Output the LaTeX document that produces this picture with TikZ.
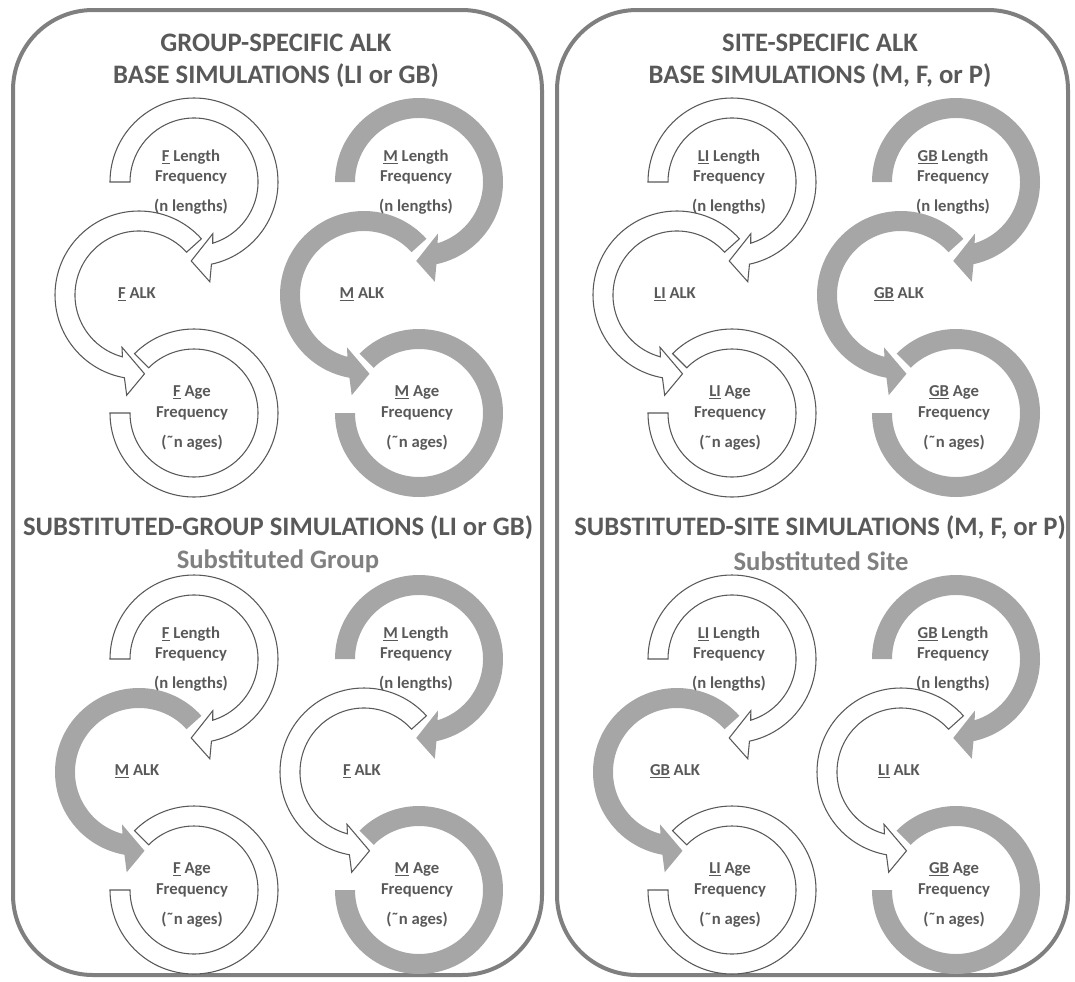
\documentclass[tikz,border=0pt]{standalone}
\usepackage{fontspec}
\setmainfont{Carlito}
\usepackage{tikz}
\definecolor{framegray}{HTML}{7F7F7F}
\definecolor{bandgray}{HTML}{A6A6A6}
\definecolor{textgray}{HTML}{595959}
\definecolor{subgray}{HTML}{808080}

% one length -> ALK -> age cycle: name, x, y, outer style, ALK style, outer code, ALK code
\newcommand{\alkcycle}[7]{%
  \pic[#4] at (#2,#3) {lenarc};
  \pic[#5] at (#2-55,#3-113) {alkarc};
  \pic[#4] at (#2,#3-231) {agearc};
  \node[freqtext] (#1len) at (#2-3,#3) {\underline{#6} Length\\Frequency\\[7pt](n lengths)};
  \node[freqtext] (#1alk) at (#2-57,#3-112) {\underline{#7} ALK};
  \node[freqtext] (#1age) at (#2-2,#3-236) {\underline{#6} Age\\Frequency\\[7pt](˜n ages)};
}

\begin{document}
\begin{tikzpicture}[
    x=0.75pt, y=0.75pt,
    panel/.style={draw=framegray, line width=3pt, rounded corners=60pt},
    openarc/.style={draw=textgray, fill=white, line width=0.8pt},
    greyarc/.style={fill=bandgray},
    heading/.style={font=\bfseries\fontsize{20}{24}\selectfont, text=textgray, align=center},
    subhead/.style={font=\bfseries\fontsize{20}{24}\selectfont, text=subgray},
    freqtext/.style={font=\bfseries\fontsize{12.5}{15.5}\selectfont, text=textgray, align=center},
    lenarc/.pic={\path[pic actions] (180:84) arc[start angle=180, end angle=-78, radius=84]
        -- (-81:101) -- (-92:79) -- (-70:55) -- (-73:64)
        arc[start angle=-73, end angle=180, radius=64] -- cycle;},
    alkarc/.pic={\path[pic actions] (42:84) arc[start angle=42, end angle=260, radius=84]
        -- (263:101) -- (274:79) -- (252:55) -- (255:64)
        arc[start angle=255, end angle=42, radius=64] -- cycle;},
    agearc/.pic={\path[pic actions] (135:84) arc[start angle=135, end angle=-180, radius=84]
        -- (-180:64) arc[start angle=-180, end angle=135, radius=64] -- cycle;}
]
\useasboundingbox (0,0) rectangle (1075,-982);

% Panels
\draw[panel] (13,-10) rectangle (542,-975);
\draw[panel] (557,-10) rectangle (1068,-975);

% Base simulations
\node[heading] (grouptitle) at (276,-61) {GROUP-SPECIFIC ALK\\BASE SIMULATIONS (LI or GB)};
\node[heading] (sitetitle) at (820,-61) {SITE-SPECIFIC ALK\\BASE SIMULATIONS (M, F, or P)};
\alkcycle{fa}{194}{-182}{openarc}{openarc}{F}{F}
\alkcycle{ma}{419}{-182}{greyarc}{greyarc}{M}{M}
\alkcycle{lia}{732}{-182}{openarc}{openarc}{LI}{LI}
\alkcycle{gba}{956}{-182}{greyarc}{greyarc}{GB}{GB}

% Substituted simulations
\node[heading] (subgrouptitle) at (278,-528) {SUBSTITUTED-GROUP SIMULATIONS (LI or GB)};
\node[subhead] (subgroup) at (278,-561) {Substituted Group};
\node[heading] (subsitetitle) at (820,-528) {SUBSTITUTED-SITE SIMULATIONS (M, F, or P)};
\node[subhead] (subsite) at (821,-561) {Substituted Site};
\alkcycle{fb}{194}{-659}{openarc}{greyarc}{F}{M}
\alkcycle{mb}{419}{-659}{greyarc}{openarc}{M}{F}
\alkcycle{lib}{732}{-659}{openarc}{greyarc}{LI}{GB}
\alkcycle{gbb}{956}{-659}{greyarc}{openarc}{GB}{LI}

\end{tikzpicture}
\end{document}
